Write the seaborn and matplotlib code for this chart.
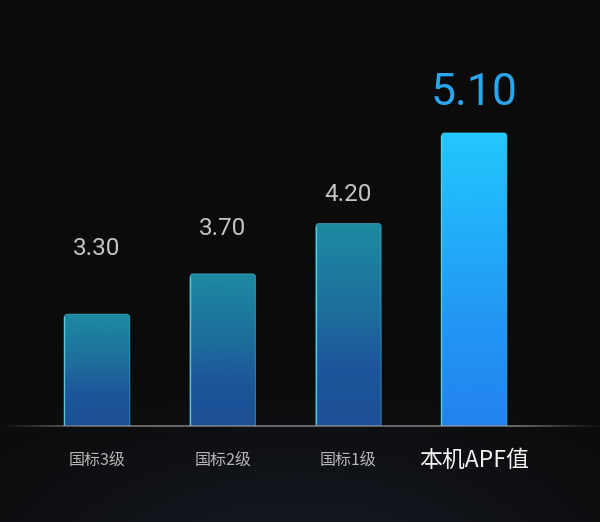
import numpy as np
import pandas as pd
import seaborn as sns
import matplotlib
matplotlib.use("Agg")
from matplotlib import pyplot as plt
from matplotlib.colors import LinearSegmentedColormap
from matplotlib.patches import FancyBboxPatch
from matplotlib.collections import LineCollection

# data
categories = ["国标3级", "国标2级", "国标1级", "本机APF值"]
apf_values = [3.30, 3.70, 4.20, 5.10]
value_labels = ["3.30", "3.70", "4.20", "5.10"]

# styling per bar (offset of the number above the bar, in points)
label_offsets = [47, 33, 21, 29]

sns.set_theme(style="dark")
plt.rcParams['font.family'] = ['Noto Sans CJK SC', 'DejaVu Sans']

fig = plt.figure(figsize=(6, 5.22), dpi=100)
fig.patch.set_facecolor('#0b0b0b')

# subtle background glow near the bottom
bg = fig.add_axes([0, 0, 1, 1], zorder=0)
yy = np.linspace(0, 1, 260)[:, None]
xx = np.linspace(0, 1, 300)[None, :]
glow = np.clip((yy - 0.72) / 0.28, 0, 1) * np.exp(-((xx - 0.5) / 0.45) ** 2)
base = np.array([11, 11, 11]) / 255
tint = np.array([8, 12, 20]) / 255
img = base[None, None, :] + glow[:, :, None] * tint[None, None, :]
bg.imshow(img, extent=[0, 1, 0, 1], aspect='auto')
bg.axis('off')

ax = fig.add_axes([0.057, 0.184, 0.838, 0.735], zorder=1)
ax.set_facecolor('none')

df = pd.DataFrame({"category": categories, "apf": apf_values})
sns.barplot(data=df, x="category", y="apf", ax=ax, width=0.52, color='#1d6aa0')

ylo, yhi = 2.19, 6.0
ax.set_ylim(ylo, yhi)
ax.set_xlim(-0.5, 3.5)

grad_std = LinearSegmentedColormap.from_list(
    "std", [(0, '#1c4f95'), (0.3, '#1d569a'), (0.55, '#1d6d9c'), (1, '#1d8aa1')])
grad_top = LinearSegmentedColormap.from_list(
    "top", [(0, '#2283ee'), (0.35, '#2296f4'), (1, '#22c8fe')])

ramp = np.linspace(0, 1, 256)[::-1, None]
for i, p in enumerate(list(ax.patches)):
    x, w, h = p.get_x(), p.get_width(), p.get_height()
    p.set_visible(False)
    shape = FancyBboxPatch((x, 0), w, h,
                           boxstyle="round,pad=0,rounding_size=0.024",
                           mutation_aspect=1.25,
                           facecolor='none', edgecolor='none')
    ax.add_patch(shape)
    cmap = grad_top if i == len(apf_values) - 1 else grad_std
    im = ax.imshow(ramp, cmap=cmap, extent=[x, x + w, ylo, h],
                   aspect='auto', zorder=2, interpolation='bilinear')
    im.set_clip_path(shape)
    edge = FancyBboxPatch((x, 0), w, h,
                          boxstyle="round,pad=0,rounding_size=0.024",
                          mutation_aspect=1.25, facecolor='none',
                          edgecolor=(0.35, 0.85, 0.95, 0.45), lw=0.8, zorder=3)
    ax.add_patch(edge)
    ax.plot([x, x], [ylo, h - 0.03], color=(0.4, 0.9, 0.95, 0.7), lw=1, zorder=3)

    last = i == len(apf_values) - 1
    ax.annotate(value_labels[i], (x + w / 2, h),
                xytext=(0, label_offsets[i]), textcoords='offset points',
                ha='center', va='center',
                fontsize=32 if last else 17.5,
                color='#2aa6ee' if last else '#c4c4c4',
                family=['Roboto', 'DejaVu Sans'], zorder=4)

ax.autoscale(False)

# baseline across the whole width, fading out at the sides
x0, x1 = -0.068, 1.125
xs = np.linspace(x0, x1, 200)
segs = [[(xs[k], 0), (xs[k + 1], 0)] for k in range(len(xs) - 1)]
fx = (xs[:-1] - x0) / (x1 - x0)
alpha = np.clip(np.minimum(fx, 1 - fx) / 0.14, 0, 1) * 0.75
lc = LineCollection(segs, colors=[(0.6, 0.6, 0.6, a) for a in alpha],
                    linewidths=1.2, transform=ax.transAxes,
                    clip_on=False, zorder=5)
ax.add_collection(lc)

ax.set_xlabel("")
ax.set_ylabel("")
ax.set_yticks([])
ax.grid(False)
for s in ax.spines.values():
    s.set_visible(False)
ax.tick_params(axis='x', length=0, pad=25)
for i, t in enumerate(ax.get_xticklabels()):
    t.set_va('center')
    if i == len(categories) - 1:
        t.set_fontsize(16.5)
        t.set_color('#f2f2f2')
    else:
        t.set_fontsize(11.5)
        t.set_color('#b5b5b5')

fig.savefig("out.png", dpi=100, facecolor=fig.get_facecolor())
